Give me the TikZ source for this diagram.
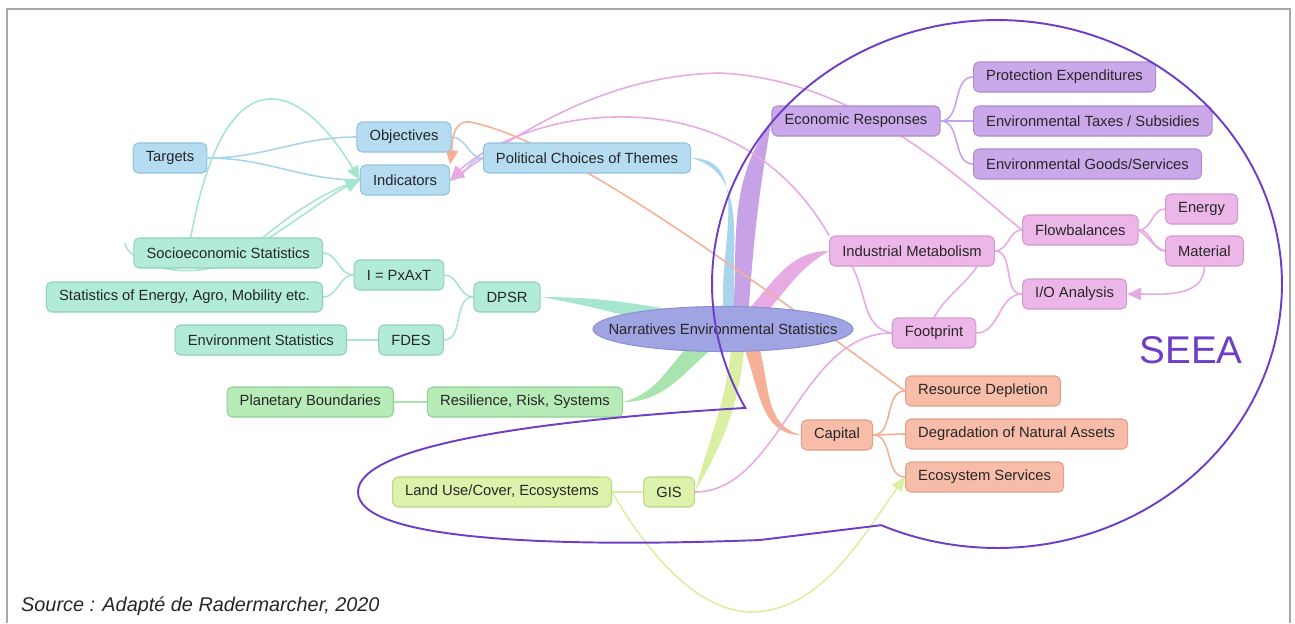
\documentclass[tikz,border=0pt]{standalone}
\usepackage{fontspec}
\setmainfont{Liberation Sans}
\usetikzlibrary{shapes.geometric,arrows.meta,backgrounds,calc}

\definecolor{nodetext}{HTML}{262626}
\definecolor{bluefill}{HTML}{B5DCF1}
\definecolor{blueedge}{HTML}{92C3DD}
\definecolor{bluewire}{HTML}{A9D5EC}
\definecolor{tealfill}{HTML}{B2EBD7}
\definecolor{tealedge}{HTML}{8FD0B8}
\definecolor{tealwire}{HTML}{A6E6CF}
\definecolor{greenfill}{HTML}{B7EBB7}
\definecolor{greenedge}{HTML}{94CF96}
\definecolor{greenwire}{HTML}{A9E4AE}
\definecolor{limefill}{HTML}{DDF2AA}
\definecolor{limeedge}{HTML}{BFD68A}
\definecolor{limewire}{HTML}{DBEFA2}
\definecolor{purplefill}{HTML}{CBA8EA}
\definecolor{purpleedge}{HTML}{AE8BD0}
\definecolor{purplewire}{HTML}{C7A2E6}
\definecolor{pinkfill}{HTML}{ECB7E8}
\definecolor{pinkedge}{HTML}{D29ACC}
\definecolor{pinkwire}{HTML}{E7AAE2}
\definecolor{salmonfill}{HTML}{F8BDA9}
\definecolor{salmonedge}{HTML}{DFA08B}
\definecolor{salmonwire}{HTML}{F5B097}
\definecolor{hubfill}{HTML}{A1A4E2}
\definecolor{hubedge}{HTML}{8C8FD2}
\definecolor{seea}{HTML}{6E3FC6}
\definecolor{framegray}{HTML}{A8A8A8}

\tikzset{
  box/.style={draw, rounded corners=3pt, line width=0.6pt, minimum height=0.6cm,
    inner xsep=7.2pt, inner ysep=0pt, text=nodetext, font=\fontsize{8.4}{10}\selectfont},
  bluebox/.style={box, fill=bluefill, draw=blueedge},
  tealbox/.style={box, fill=tealfill, draw=tealedge},
  greenbox/.style={box, fill=greenfill, draw=greenedge},
  limebox/.style={box, fill=limefill, draw=limeedge},
  purplebox/.style={box, fill=purplefill, draw=purpleedge},
  pinkbox/.style={box, fill=pinkfill, draw=pinkedge},
  salmonbox/.style={box, fill=salmonfill, draw=salmonedge},
  hub/.style={ellipse, fill=hubfill, draw=hubedge, line width=0.6pt, minimum width=5.08cm,
    minimum height=0.9cm, inner xsep=-0.45cm, inner ysep=0pt, text=nodetext,
    font=\fontsize{8.4}{10}\selectfont},
  wire/.style={line width=0.9pt},
  tipped/.style={wire, -{Triangle[length=8pt,width=7pt]}},
}

\begin{document}
\begin{tikzpicture}[x=0.02cm, y=-0.02cm]
  \useasboundingbox (0,0) rectangle (1295,623);
  \draw[framegray, line width=0.85pt] (7,623) -- (7,9) -- (1290,9) -- (1290,623);

  % left side
  \node[bluebox] (targets) at (170,158) {Targets};
  \node[bluebox] (objectives) at (404,137) {Objectives};
  \node[bluebox] (indicators) at (405,180) {Indicators};
  \node[bluebox] (political) at (587,158) {Political Choices of Themes};

  \node[tealbox, anchor=east] (socio) at (323,253) {Socioeconomic Statistics};
  \node[tealbox, anchor=east] (energy) at (323,297) {Statistics of Energy, Agro, Mobility etc.};
  \node[tealbox] (ipat) at (399,275) {I = PxAxT};
  \node[tealbox] (dpsr) at (507,297) {DPSR};
  \node[tealbox, anchor=east] (envstat) at (347,340) {Environment Statistics};
  \node[tealbox] (fdes) at (411,340) {FDES};

  \node[greenbox, anchor=east] (planetary) at (394,402) {Planetary Boundaries};
  \node[greenbox] (resilience) at (525,402) {Resilience, Risk, Systems};

  \node[limebox, anchor=east] (landuse) at (612,492) {Land Use/Cover, Ecosystems};
  \node[limebox] (gis) at (669,492) {GIS};

  \node[hub] (narratives) at (723,329) {Narratives Environmental Statistics};

  % right side
  \node[purplebox] (economic) at (856,121) {Economic Responses};
  \node[purplebox, anchor=west] (protection) at (973,77) {Protection Expenditures};
  \node[purplebox, anchor=west] (taxes) at (973,121) {Environmental Taxes / Subsidies};
  \node[purplebox, anchor=west] (goods) at (973,164) {Environmental Goods/Services};

  \node[pinkbox] (industrial) at (912,251) {Industrial Metabolism};
  \node[pinkbox, anchor=west] (flow) at (1022,230) {Flowbalances};
  \node[pinkbox, anchor=west] (energyflow) at (1165,209) {Energy};
  \node[pinkbox, anchor=west] (material) at (1165,251) {Material};
  \node[pinkbox, anchor=west] (io) at (1022,294) {I/O Analysis};
  \node[pinkbox] (footprint) at (934,333) {Footprint};

  \node[salmonbox] (capital) at (837,435) {Capital};
  \node[salmonbox, anchor=west] (depletion) at (905,391) {Resource Depletion};
  \node[salmonbox, anchor=west] (degradation) at (905,434) {Degradation of Natural Assets};
  \node[salmonbox, anchor=west] (ecoserv) at (905,477) {Ecosystem Services};

  \node[text=seea, font=\fontsize{22}{26}\selectfont] (seealabel) at (1191,350) {SEEA};
  \node[anchor=west, text=nodetext, font=\fontsize{11.3}{13}\selectfont\itshape] (source) at (15,606)
    {Source : Adapté de Radermarcher, 2020};

  \coordinate (loose) at (125,243);

  \begin{scope}[on background layer]
    % trunks from the hub
    \fill[bluewire] (political.east) to[out=0,in=100] ($(narratives.center)+(2,-8)$)
      -- ($(narratives.center)+(14,-8)$) to[out=100,in=-15] (political.east);
    \fill[purplewire] (economic.west) to[out=235,in=86] ($(narratives.center)+(10,-10)$)
      -- ($(narratives.center)+(25,-10)$) to[out=86,in=260] (economic.west);
    \fill[pinkwire] (industrial.west) to[out=180,in=45] ($(narratives.center)+(20,-14)$)
      -- ($(narratives.center)+(32,-4)$) to[out=45,in=210] (industrial.west);
    \fill[tealwire] (dpsr.east) to[out=0,in=170] ($(narratives.center)+(-33,-16)$)
      -- ($(narratives.center)+(-33,4)$) to[out=165,in=-10] (dpsr.east);
    \fill[greenwire] (resilience.east) to[out=15,in=220] ($(narratives.center)+(-23,6)$)
      -- ($(narratives.center)+(-9,18)$) to[out=220,in=0] (resilience.east);
    \fill[limewire] (gis.east) to[out=75,in=265] ($(narratives.center)+(9,12)$)
      -- ($(narratives.center)+(22,12)$) to[out=265,in=60] (gis.east);
    \fill[salmonwire] (capital.west) to[out=180,in=295] ($(narratives.center)+(18,12)$)
      -- ($(narratives.center)+(34,12)$) to[out=290,in=165] (capital.west);

    % branches
    \draw[wire, bluewire] (political.west) to[out=180,in=0] (objectives.east);
    \draw[wire, bluewire] (political.west) to[out=180,in=0] (indicators.east);
    \draw[wire, bluewire] (targets.east) to[out=0,in=180] (objectives.west);
    \draw[wire, bluewire] (targets.east) to[out=0,in=180] (indicators.west);

    \draw[wire, tealwire] (dpsr.west) to[out=180,in=0] (ipat.east);
    \draw[wire, tealwire] (dpsr.west) to[out=180,in=0] (fdes.east);
    \draw[wire, tealwire] (ipat.west) to[out=180,in=0] (socio.east);
    \draw[wire, tealwire] (ipat.west) to[out=180,in=0] (energy.east);
    \draw[wire, tealwire] (fdes) -- (envstat);

    \draw[wire, greenwire] (resilience) -- (planetary);
    \draw[wire, limewire] (gis) -- (landuse);

    \draw[wire, purplewire] (economic.east) to[out=0,in=180] (protection.west);
    \draw[wire, purplewire] (economic.east) to[out=0,in=180] (taxes.west);
    \draw[wire, purplewire] (economic.east) to[out=0,in=180] (goods.west);

    \draw[wire, pinkwire] (industrial.east) to[out=0,in=180] (flow.west);
    \draw[wire, pinkwire] (industrial.east) to[out=0,in=180] (io.west);
    \draw[wire, pinkwire] (flow.east) to[out=0,in=180] (energyflow.west);
    \draw[wire, pinkwire] (flow.east) to[out=0,in=180] (material.west);
    \draw[wire, pinkwire] (flow.east) to[out=-35,in=160] (material.west);
    \draw[wire, pinkwire] (footprint.east) to[out=0,in=180] (io.west);
    \draw[wire, pinkwire] ([xshift=-1.2cm]industrial.south) to[out=-60,in=170] (footprint.west);
    \draw[wire, pinkwire] ([xshift=1.3cm]industrial.south) to[out=-125,in=60] (footprint.north);

    \draw[wire, salmonwire] (capital.east) to[out=0,in=180] (depletion.west);
    \draw[wire, salmonwire] (capital.east) to[out=0,in=180] (degradation.west);
    \draw[wire, salmonwire] (capital.east) to[out=0,in=180] (ecoserv.west);

    % relations
    \draw[tipped, tealwire] ([xshift=-0.75cm]socio.north) .. controls (225,50) and (300,80) .. (indicators.west);
    \draw[tipped, tealwire] ([xshift=0.7cm]socio.north) .. controls (290,215) and (320,195) .. (indicators.west);
    \draw[tipped, tealwire] (loose) .. controls (128,262) and (175,278) .. (215,267)
      .. controls (260,250) and (320,200) .. (indicators.west);
    \draw[tipped, pinkwire] (flow.west) .. controls (960,180) and (860,80) .. (720,73)
      .. controls (600,75) and (510,140) .. (indicators.east);
    \draw[tipped, pinkwire] (industrial.north west) .. controls (780,150) and (700,115) .. (615,117)
      .. controls (540,118) and (480,150) .. (indicators.east);
    \draw[tipped, salmonwire] (depletion.west) .. controls (720,255) and (560,140) .. (470,122)
      .. controls (450,120) and (452,150) .. (indicators.north east);
    \draw[tipped, pinkwire] (material.south) to[out=-90,in=0] (io.east);
    \draw[tipped, limewire] (landuse.east) .. controls (640,540) and (690,610) .. (750,612)
      .. controls (820,612) and (860,540) .. (ecoserv.west);
    \draw[wire, pinkwire] (gis.east) .. controls (780,492) and (800,333) .. (footprint.west);
  \end{scope}

  % SEEA outline
  \draw[seea, line width=1.1pt] plot[domain=152:474, samples=160] ({997+285*cos(\x)},{284+264*sin(\x)})
    -- (760,540) .. controls (550,548) and (358,540) .. (358,492)
    .. controls (358,445) and (540,420) .. cycle;
\end{tikzpicture}
\end{document}
